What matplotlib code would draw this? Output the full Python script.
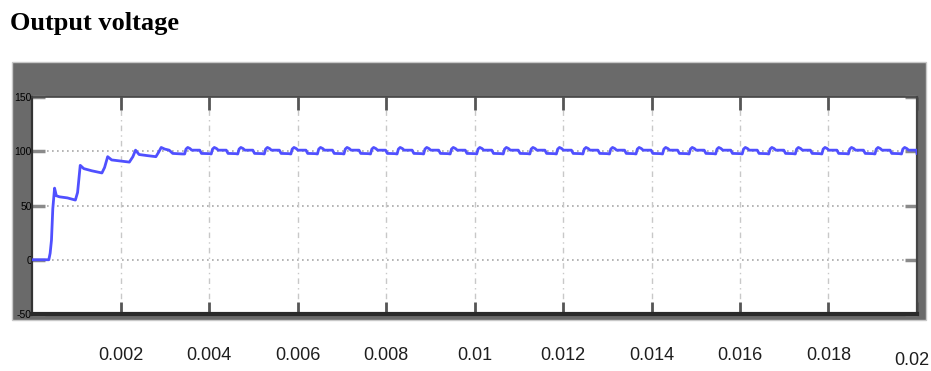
import matplotlib
matplotlib.use("Agg")
import matplotlib.pyplot as plt
from matplotlib.patches import Rectangle
from matplotlib.transforms import ScaledTranslation
import numpy as np

# Start-up transient of the output voltage (time in ms, volts)
startup_t_ms = [0.00, 0.38, 0.41, 0.44, 0.47, 0.51, 0.55, 0.62, 0.80, 0.98,
                1.03, 1.09, 1.17, 1.35, 1.58, 1.64, 1.71, 1.80, 2.00, 2.20,
                2.28, 2.34, 2.42, 2.60, 2.80, 2.86, 2.92, 3.00, 3.10, 3.18, 3.40]
startup_v = [0, 0, 6, 18, 47, 66, 59, 58, 57, 55,
             62, 87, 84, 82, 80, 85, 95, 92, 91, 90,
             95, 101, 97, 96, 95, 99, 103.5, 102, 101, 98, 97.5]

# Steady-state ripple: one switching cycle (offset in ms from its rising edge, volts)
ripple_offset_ms = [0.00, 0.03, 0.07, 0.12, 0.16, 0.34, 0.38, 0.55]
ripple_v = [97.5, 102.0, 103.5, 102.5, 101.0, 101.0, 98.0, 97.8]

# Rising edges of the steady-state cycles (ms)
edge_t_ms = [3.45, 4.05, 4.65, 5.25, 5.85, 6.45, 7.05, 7.65, 8.25, 8.85,
             9.45, 10.05, 10.65, 11.25, 11.85, 12.45, 13.05, 13.65, 14.25,
             14.85, 15.45, 16.05, 16.65, 17.25, 17.85, 18.45, 19.05, 19.65]
end_t_ms = 20.0
end_v = 98.0

x_ticks = [0.002, 0.004, 0.006, 0.008, 0.01, 0.012, 0.014, 0.016, 0.018, 0.02]
x_tick_labels = ["0.002", "0.004", "0.006", "0.008", "0.01", "0.012",
                 "0.014", "0.016", "0.018", "0.02"]
y_ticks = [-50, 0, 50, 100, 150]
y_tick_labels = ["-50", "0", "50", "100", "150"]

# Assemble the waveform
t_ms = list(startup_t_ms)
v = list(startup_v)
for edge in edge_t_ms:
    for off, val in zip(ripple_offset_ms, ripple_v):
        tt = edge + off
        if tt <= end_t_ms:
            t_ms.append(tt)
            v.append(val)
t_ms.append(end_t_ms)
v.append(end_v)
t_s = np.array(t_ms) / 1000.0
v = np.array(v)

W, H = 931, 371
fig = plt.figure(figsize=(W / 100, H / 100), dpi=100)
fig.patch.set_facecolor("white")

# Scope-style grey panel behind the plot area
fig.patches.append(Rectangle((12 / W, (H - 320) / H), 914 / W, 258 / H,
                             transform=fig.transFigure, facecolor="#6a6a6a",
                             edgecolor="#c8c8c8", linewidth=1.0, zorder=-5))

fig.text(10 / W, (H - 30) / H, "Output voltage", family="Liberation Serif",
         fontweight="bold", fontsize=19, color="black", ha="left", va="baseline")

ax = fig.add_axes([32 / W, (H - 314) / H, 885 / W, 217 / H])
ax.set_zorder(2)
ax.set_facecolor("white")
ax.set_xlim(0, 0.02)
ax.set_ylim(-50, 150)

# Grid
for yv in [0, 50, 100]:
    ax.axhline(yv, color="#a8a8a8", linewidth=1.2, linestyle=(0, (1, 2)), zorder=1)
for xv in x_ticks[:-1]:
    ax.axvline(xv, color="#c8c8c8", linewidth=1.0, linestyle=(0, (4, 3, 1, 3)), zorder=1)

ax.plot(t_s, v, color="#5050ff", linewidth=2.0, zorder=3, solid_joinstyle="round")

label_font = "Liberation Sans"

ax.set_xticks(x_ticks)
ax.set_xticklabels(x_tick_labels, family=label_font, fontsize=13, color="#1e1e1e")
ax.tick_params(axis="x", direction="in", length=9, width=2, color="#555555",
               top=True, bottom=True, pad=24)
xt = ax.get_xticklabels()
xt[-1].set_transform(xt[-1].get_transform()
                     + ScaledTranslation(-5 / 100, -5 / 100, fig.dpi_scale_trans))

ax.set_yticks(y_ticks)
ax.set_yticklabels(y_tick_labels, family=label_font, fontsize=7.5, color="black")
ax.tick_params(axis="y", direction="in", length=9, width=2.5, color="#8a8a8a",
               left=True, right=True, pad=0)

ax.spines["left"].set_color("#333333")
ax.spines["left"].set_linewidth(1.6)
ax.spines["bottom"].set_color("#2a2a2a")
ax.spines["bottom"].set_linewidth(3.0)
ax.spines["top"].set_color("#444444")
ax.spines["top"].set_linewidth(1.2)
ax.spines["right"].set_color("#444444")
ax.spines["right"].set_linewidth(1.6)

fig.savefig("out.png", dpi=100)
